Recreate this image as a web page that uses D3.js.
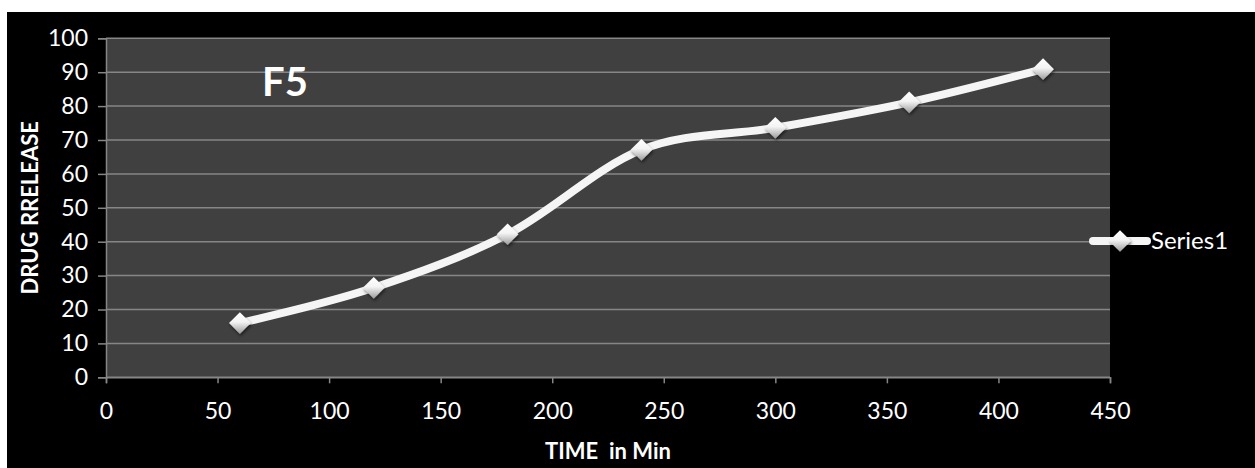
<!DOCTYPE html>
<html>
<head>
<meta charset="utf-8">
<script src="https://cdn.jsdelivr.net/npm/d3@7"></script>
<style>
  html, body { margin: 0; padding: 0; background: #ffffff; }
  svg { display: block; }
</style>
</head>
<body>
<svg id="chart" width="1255" height="468"></svg>
<script>
// Cumulative drug release of formulation F5 over time
const times = [60, 120, 180, 240, 300, 360, 420];
const release = [16, 26.4, 42.2, 67.1, 73.6, 81.1, 90.9];
const xTicks = [0, 50, 100, 150, 200, 250, 300, 350, 400, 450];
const yTicks = [0, 10, 20, 30, 40, 50, 60, 70, 80, 90, 100];
const seriesName = "Series1";
const chartTitle = "F5";
const xTitle = "TIME  in Min";
const yTitle = "DRUG RRELEASE";

const W = 1255, H = 468;
const frame = { left: 7, top: 12 };
const plot = { left: 106, right: 1110, top: 38.3, bottom: 377.3 };
const font = "Lato, 'Open Sans', sans-serif";

const svg = d3.select("#chart");

// outer black chart frame
svg.append("rect")
  .attr("x", frame.left).attr("y", frame.top)
  .attr("width", W - frame.left).attr("height", H - frame.top)
  .attr("fill", "#000000");

const x = d3.scaleLinear().domain([0, 450]).range([plot.left, plot.right]);
const y = d3.scaleLinear().domain([0, 100]).range([plot.bottom, plot.top]);

// plot area
svg.append("rect")
  .attr("x", plot.left).attr("y", plot.top)
  .attr("width", plot.right - plot.left).attr("height", plot.bottom - plot.top)
  .attr("fill", "#404040");

// horizontal gridlines
svg.append("g")
  .selectAll("line")
  .data(yTicks)
  .join("line")
  .attr("x1", plot.left).attr("x2", plot.right)
  .attr("y1", d => y(d)).attr("y2", d => y(d))
  .attr("stroke", "#868686")
  .attr("stroke-width", 1.5);

// y axis
const yAxis = svg.append("g")
  .attr("transform", `translate(${plot.left},0)`)
  .call(d3.axisLeft(y).tickValues(yTicks).tickSize(8).tickPadding(10).tickFormat(d3.format("d")));
yAxis.select(".domain").attr("stroke", "#868686").attr("stroke-width", 1.5);
yAxis.selectAll(".tick line").attr("stroke", "#868686").attr("stroke-width", 1.5);
yAxis.selectAll(".tick text")
  .attr("fill", "#ffffff").attr("font-family", font).attr("font-size", 23);

// x axis
const xAxis = svg.append("g")
  .attr("transform", `translate(0,${plot.bottom})`)
  .call(d3.axisBottom(x).tickValues(xTicks).tickSize(6).tickPadding(19).tickFormat(d3.format("d")));
xAxis.select(".domain").attr("stroke", "#868686").attr("stroke-width", 1.5);
xAxis.selectAll(".tick line").attr("stroke", "#868686").attr("stroke-width", 1.5);
xAxis.selectAll(".tick text")
  .attr("fill", "#ffffff").attr("font-family", font).attr("font-size", 23);

// gradient and shadow for diamond markers
const defs = svg.append("defs");
const grad = defs.append("linearGradient")
  .attr("id", "markerFill")
  .attr("x1", "0").attr("y1", "0").attr("x2", "0").attr("y2", "1");
grad.append("stop").attr("offset", "0%").attr("stop-color", "#ffffff");
grad.append("stop").attr("offset", "45%").attr("stop-color", "#f4f4f4");
grad.append("stop").attr("offset", "100%").attr("stop-color", "#9a9a9a");
const shadow = defs.append("filter").attr("id", "markerShadow")
  .attr("x", "-50%").attr("y", "-50%").attr("width", "200%").attr("height", "200%");
shadow.append("feDropShadow")
  .attr("dx", 1).attr("dy", 2).attr("stdDeviation", 1.5)
  .attr("flood-color", "#000000").attr("flood-opacity", 0.55);

const points = times.map((t, i) => [t, release[i]]);

// smoothed release line
const line = d3.line()
  .x(d => x(d[0])).y(d => y(d[1]))
  .curve(d3.curveCardinal.tension(0));
svg.append("path")
  .datum(points)
  .attr("d", line)
  .attr("fill", "none")
  .attr("stroke", "#f5f5f5")
  .attr("stroke-width", 8)
  .attr("stroke-linecap", "round")
  .attr("stroke-linejoin", "round");

const diamond = d3.symbol().type(d3.symbolDiamond2).size(300);
svg.append("g")
  .selectAll("path")
  .data(points)
  .join("path")
  .attr("transform", d => `translate(${x(d[0])},${y(d[1])})`)
  .attr("d", diamond)
  .attr("fill", "url(#markerFill)")
  .attr("filter", "url(#markerShadow)");

// chart label
svg.append("text")
  .attr("x", 262).attr("y", 96)
  .attr("fill", "#ffffff")
  .attr("font-family", font)
  .attr("font-weight", "bold")
  .attr("font-size", 40)
  .text(chartTitle);

// axis titles
svg.append("text")
  .attr("x", (plot.left + plot.right) / 2).attr("y", 459)
  .attr("text-anchor", "middle")
  .attr("fill", "#ffffff")
  .attr("font-family", font)
  .attr("font-weight", "bold")
  .attr("font-size", 22)
  .attr("xml:space", "preserve")
  .style("white-space", "pre")
  .text(xTitle);

svg.append("text")
  .attr("transform", `translate(38,${(plot.top + plot.bottom) / 2}) rotate(-90)`)
  .attr("text-anchor", "middle")
  .attr("fill", "#ffffff")
  .attr("font-family", font)
  .attr("font-weight", "bold")
  .attr("font-size", 22)
  .text(yTitle);

// legend
const lg = svg.append("g").attr("transform", "translate(1120,241)");
lg.append("line")
  .attr("x1", -27).attr("x2", 27)
  .attr("y1", 0).attr("y2", 0)
  .attr("stroke", "#f5f5f5").attr("stroke-width", 8)
  .attr("stroke-linecap", "round");
lg.append("path")
  .attr("d", diamond)
  .attr("fill", "url(#markerFill)")
  .attr("filter", "url(#markerShadow)");
lg.append("text")
  .attr("x", 31).attr("y", 0)
  .attr("dy", "0.35em")
  .attr("fill", "#ffffff")
  .attr("font-family", font)
  .attr("font-size", 24)
  .text(seriesName);
</script>
</body>
</html>
